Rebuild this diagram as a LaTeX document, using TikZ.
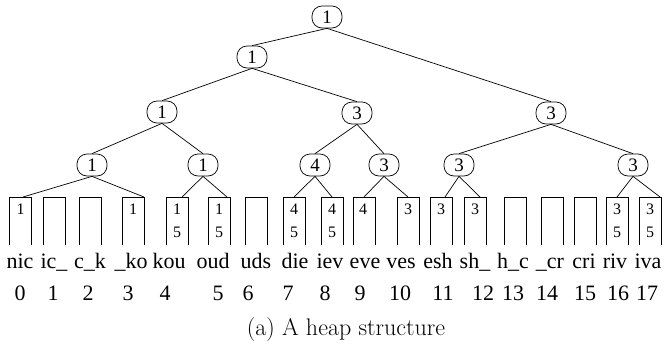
\documentclass[tikz,border=0pt]{standalone}
\usepackage{fontspec}
\newfontfamily\tms{Liberation Serif}
\begin{document}
\begin{tikzpicture}[x=1pt,y=-1pt,line width=0.7pt,
  tnode/.style={draw,rounded corners=10pt,minimum width=30pt,minimum height=22pt,inner sep=0pt,font=\tms\fontsize{19}{19}\selectfont},
  lab/.style={anchor=base,inner sep=0pt,font=\tms\fontsize{22}{22}\selectfont},
  dig/.style={anchor=base,inner sep=0pt,font=\tms\fontsize{16}{16}\selectfont},
  boxline/.style={line width=0.7pt}]
\useasboundingbox (0,0) rectangle (669,346);
% tree nodes
\node[tnode] (r) at (327,17) {1};
\node[tnode] (a) at (252,57) {1};
\node[tnode] (b1) at (162,112) {1};
\node[tnode] (b2) at (357,113) {3};
\node[tnode] (b3) at (551,113) {3};
\node[tnode] (c1) at (92,165) {1};
\node[tnode] (c2) at (203,165) {1};
\node[tnode] (c3) at (315,165) {4};
\node[tnode] (c4) at (384,165) {3};
\node[tnode] (c5) at (459,165) {3};
\node[tnode] (c6) at (633,165) {3};
% boxes, labels, indices
\foreach \i/\x/\lx/\nx/\txt in {0/20.5/20/20/nic,1/54/54/53/ic\_,2/90.5/90/88/c\_k,3/133/131/128/\_ko,4/177/169/165/kou,5/219/213/218/oud,6/256/256/248/uds,7/294/295/288/die,8/332/330/325/iev,9/364/365/360/eve,10/408/401/400/ves,11/441/438/443/esh,12/475/475/483/sh\_,13/515/513/513/h\_c,14/552/550/547/\_cr,15/585/584/585/cri,16/617/615/618/riv,17/650/648/647/iva}{
  \coordinate (t\i) at (\x,197);
  \draw[boxline] (\x-11,245) -- (\x-11,197) -- (\x+11,197) -- (\x+11,245);
  \node[lab] (l\i) at (\lx,268) {\txt};
  \node[lab] (n\i) at (\nx,300) {\i};
}
% digits inside boxes
\foreach \i/\x/\d in {0/20.5/1,3/133/1,4/177/1,5/219/1,7/294/4,8/332/4,9/363/4,10/408/3,11/441/3,12/475/3,16/617/3,17/650/3}{
  \node[dig] (da\i) at (\x,214) {\d};
}
\foreach \i/\x/\d in {4/177/5,5/219/5,7/294/5,8/332/5,16/617/5,17/650/5}{
  \node[dig] (db\i) at (\x,237.5) {\d};
}
% tree edges
\draw (r.south) -- (a.north);
\draw (r.south) -- (b3.north);
\draw (a.south) -- (b1.north);
\draw (a.south) -- (b2.north);
\draw (b1.south) -- (c1.north);
\draw (b1.south) -- (c2.north);
\draw (b2.south) -- (c3.north);
\draw (b2.south) -- (c4.north);
\draw (b3.south) -- (c5.north);
\draw (b3.south) -- (c6.north);
% leaf edges
\draw (c1.south) -- ([xshift=2.5pt]t0);
\draw (c1.south) -- ([xshift=11pt]t3);
\draw (c2.south) -- ([xshift=5pt]t4);
\draw (c2.south) -- ([xshift=8pt]t5);
\draw (c3.south) -- (t7);
\draw (c3.south) -- (t8);
\draw (c4.south) -- (t9);
\draw (c4.south) -- (t10);
\draw (c5.south) -- ([xshift=4pt]t11);
\draw (c5.south) -- ([xshift=5pt]t12);
\draw (c6.south) -- (t16);
\draw (c6.south) -- ([xshift=10pt]t17);
% caption
\node[anchor=base,inner sep=0pt,font=\fontsize{24}{24}\selectfont] (cap) at (346,335) {(a) A heap structure};
\end{tikzpicture}
\end{document}
